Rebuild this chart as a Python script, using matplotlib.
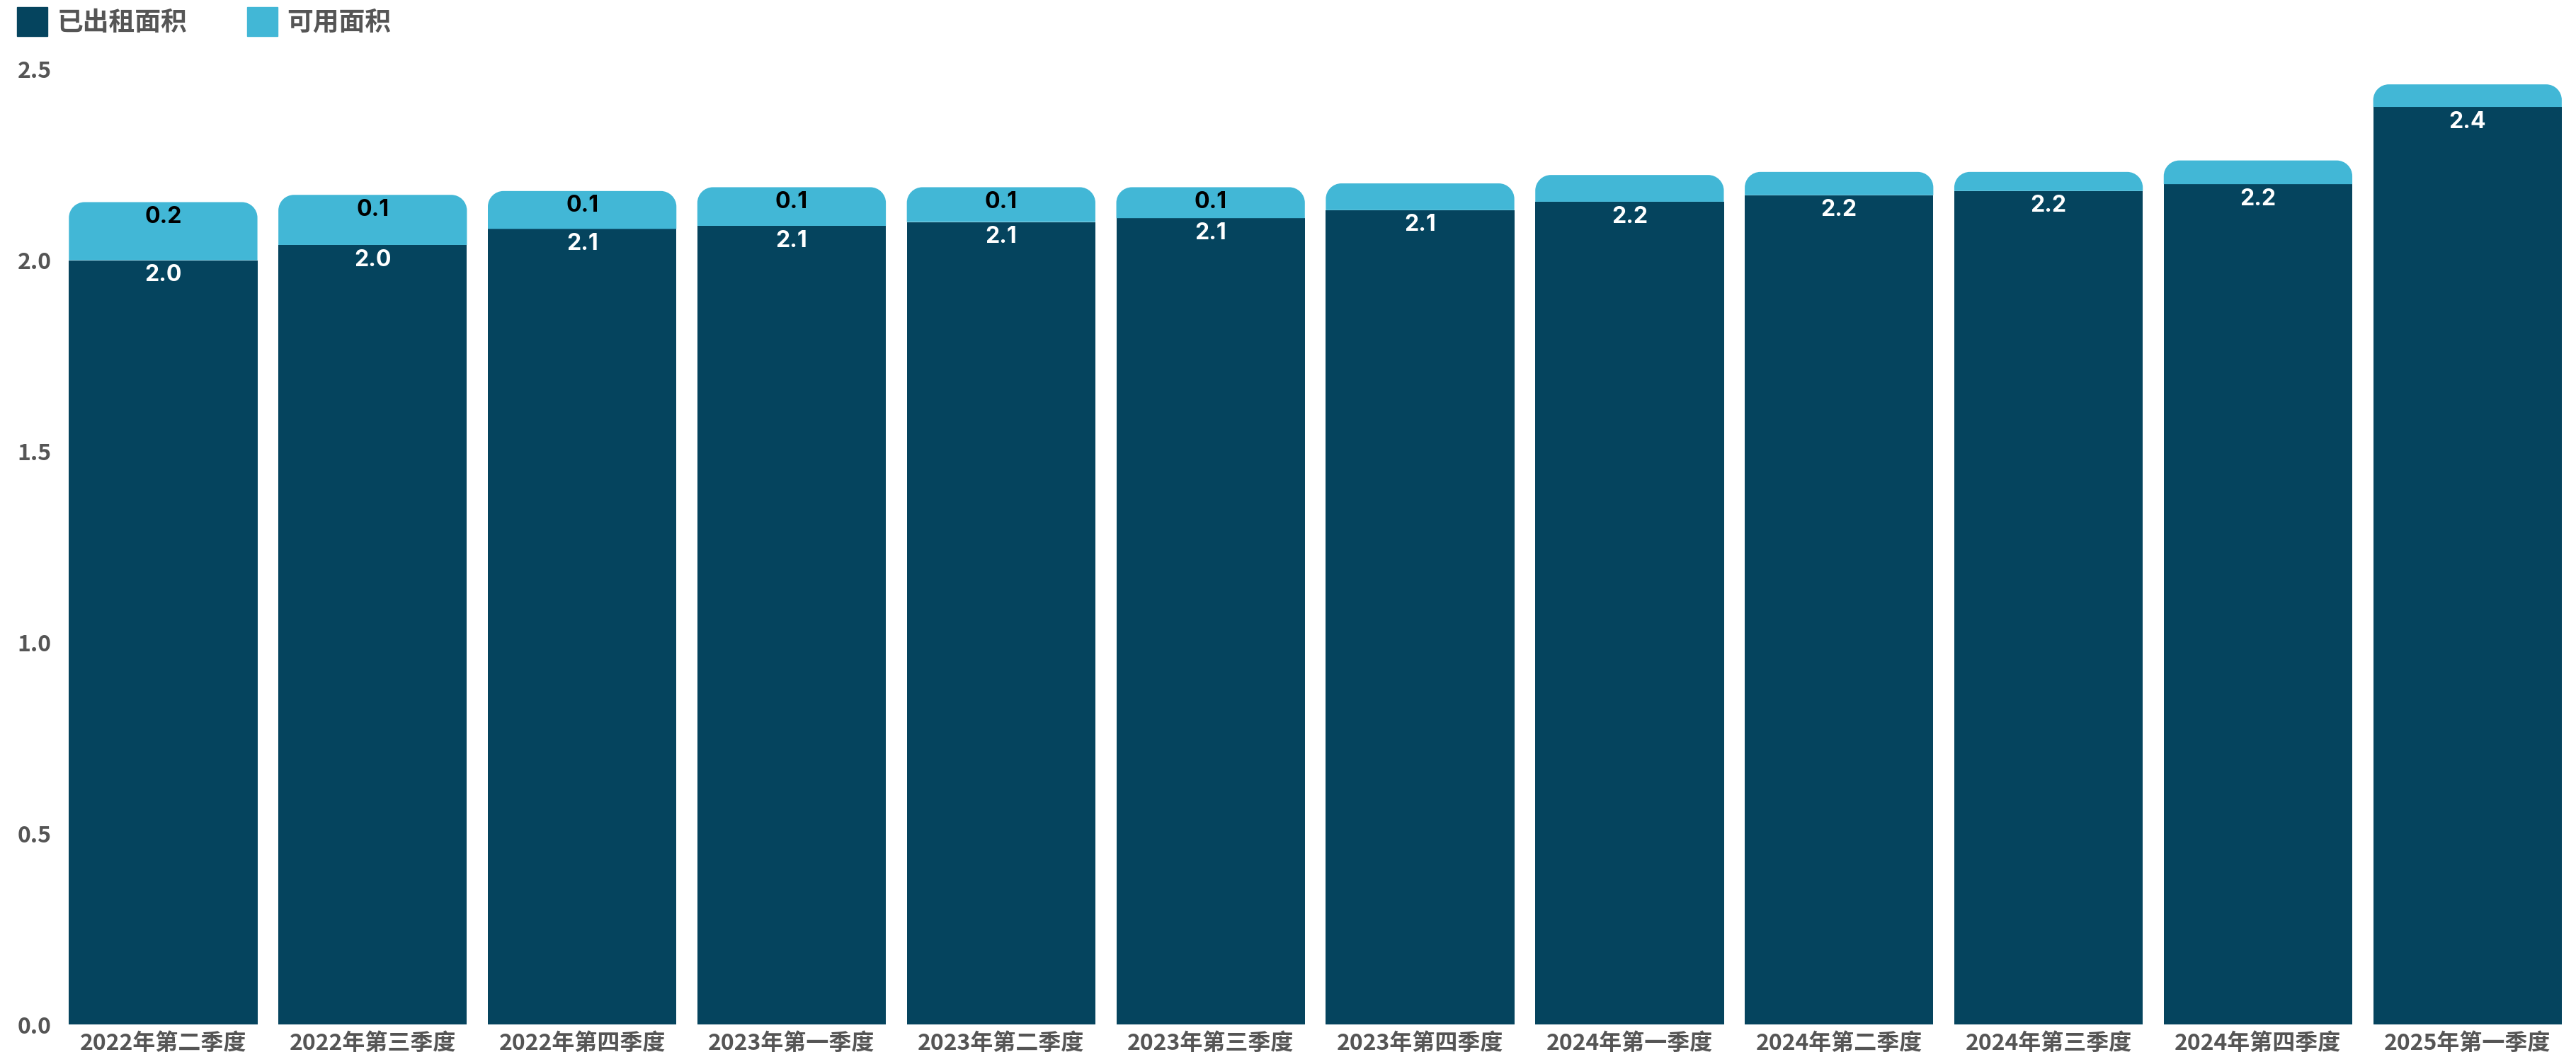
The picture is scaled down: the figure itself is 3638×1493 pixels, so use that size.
import matplotlib
matplotlib.use('Agg')
import matplotlib.pyplot as plt
import matplotlib.patches as mpatches
from matplotlib.path import Path
import numpy as np

quarters = ['2022年第二季度', '2022年第三季度', '2022年第四季度', '2023年第一季度',
            '2023年第二季度', '2023年第三季度', '2023年第四季度', '2024年第一季度',
            '2024年第二季度', '2024年第三季度', '2024年第四季度', '2025年第一季度']
leased_area = [1.999, 2.039, 2.081, 2.089, 2.099, 2.109, 2.130, 2.152, 2.169, 2.180, 2.198, 2.400]
available_area = [0.152, 0.131, 0.099, 0.101, 0.091, 0.081, 0.070, 0.070, 0.061, 0.050, 0.062, 0.059]
series_names = ['已出租面积', '可用面积']

dark = '#05445e'
light = '#42b7d6'
grey = '#555555'
cjk = ['Noto Sans CJK SC', 'DejaVu Sans']
num = ['Inter', 'DejaVu Sans']

fig = plt.figure(figsize=(36.38, 14.93), dpi=100)
ax = fig.add_axes([0.02268, 0.0308, 0.99854 - 0.02268, 0.935 - 0.0308])

x = np.arange(len(quarters))
width = 0.9
b1 = ax.bar(x, leased_area, width, color=dark, linewidth=0)
b2 = ax.bar(x, available_area, width, bottom=leased_area, color=light, linewidth=0)

ax.set_xlim(-0.5, len(quarters) - 0.5)
ax.set_ylim(0, 2.5)

# round the top corners of the upper segment
p0 = ax.transData.transform((0, 0))
p1 = ax.transData.transform((1, 1))
r_px = 22
rx = r_px / (p1[0] - p0[0])
ry = r_px / (p1[1] - p0[1])
k = 0.5523
for rect in b2.patches:
    x0, y0 = rect.get_x(), rect.get_y()
    w, h = rect.get_width(), rect.get_height()
    x1, y1 = x0 + w, y0 + h
    verts = [(x0, y0), (x1, y0), (x1, y1 - ry),
             (x1, y1 - ry + k * ry), (x1 - rx + k * rx, y1), (x1 - rx, y1),
             (x0 + rx, y1),
             (x0 + rx - k * rx, y1), (x0, y1 - ry + k * ry), (x0, y1 - ry),
             (x0, y0)]
    codes = [Path.MOVETO, Path.LINETO, Path.LINETO,
             Path.CURVE4, Path.CURVE4, Path.CURVE4,
             Path.LINETO,
             Path.CURVE4, Path.CURVE4, Path.CURVE4,
             Path.CLOSEPOLY]
    rect.set_visible(False)
    ax.add_patch(mpatches.PathPatch(Path(verts, codes), facecolor=light, edgecolor='none'))

# value labels
for i in range(len(quarters)):
    ax.annotate(f'{leased_area[i]:.1f}', (x[i], leased_area[i]), xytext=(0, -4),
                textcoords='offset points', ha='center', va='top', color='white',
                fontsize=23, fontweight='bold', family=num)
    if available_area[i] >= 0.075:
        top = leased_area[i] + available_area[i]
        ax.annotate(f'{available_area[i]:.1f}', (x[i], top), xytext=(0, -4),
                    textcoords='offset points', ha='center', va='top', color='black',
                    fontsize=23, fontweight='bold', family=num)

for s in ax.spines.values():
    s.set_visible(False)
ax.tick_params(length=0)
ax.set_xticks(x)
ax.set_xticklabels(quarters, fontsize=23, fontweight='bold', color=grey, family=cjk)
ax.tick_params(axis='x', pad=8)
ax.tick_params(axis='y', pad=7)
ax.set_yticks([0, 0.5, 1.0, 1.5, 2.0, 2.5])
ax.set_yticklabels(['0.0', '0.5', '1.0', '1.5', '2.0', '2.5'], fontsize=23,
                   fontweight='bold', color=grey, family=cjk)

handles = [mpatches.Patch(color=dark, label=series_names[0]),
           mpatches.Patch(color=light, label=series_names[1])]
leg = fig.legend(handles=handles, loc='upper left', bbox_to_anchor=(0.0066, 0.993),
                 ncol=2, frameon=False, borderpad=0, borderaxespad=0,
                 handlelength=1.17, handleheight=1.3, handletextpad=0.36,
                 columnspacing=2.3, prop={'family': cjk, 'size': 26.5, 'weight': 'bold'})
for t in leg.get_texts():
    t.set_color(grey)

fig.savefig('out.png', dpi=100)
